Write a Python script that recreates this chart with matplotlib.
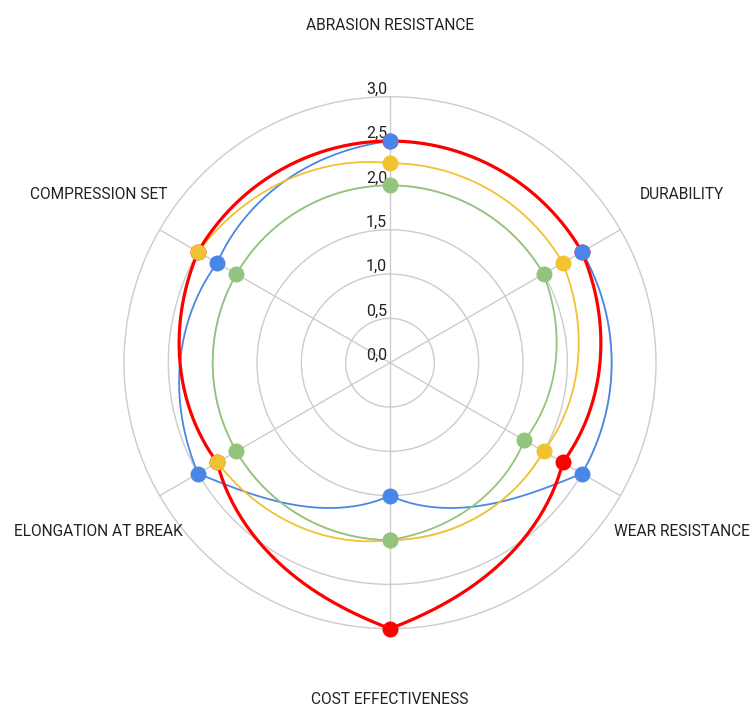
import numpy as np
import matplotlib
matplotlib.use("Agg")
import matplotlib.pyplot as plt

plt.rcParams['font.family'] = ['Roboto', 'DejaVu Sans']

# ---- data ----
categories = ["ABRASION RESISTANCE", "DURABILITY", "WEAR RESISTANCE",
              "COST EFFECTIVENESS", "ELONGATION AT BREAK", "COMPRESSION SET"]
series_blue = [2.5, 2.5, 2.5, 1.5, 2.5, 2.25]
series_red = [2.5, 2.5, 2.25, 3.0, 2.25, 2.5]
series_yellow = [2.25, 2.25, 2.0, 2.0, 2.25, 2.5]
series_green = [2.0, 2.0, 1.75, 2.0, 2.0, 2.0]
radial_ticks = [0.0, 0.5, 1.0, 1.5, 2.0, 2.5, 3.0]
radial_tick_labels = ["0,0", "0,5", "1,0", "1,5", "2,0", "2,5", "3,0"]

colors = {"blue": "#4A86E8", "red": "#FF0000", "yellow": "#F1C232", "green": "#93C47D"}
grid_color = "#cccccc"
text_color = "#222222"

W, H = 755, 708
cx, cy, R = 390.0, 362.7, 266.0

fig = plt.figure(figsize=(W / 100, H / 100), dpi=100)
ax = fig.add_axes([(cx - R) / W, (H - cy - R) / H, 2 * R / W, 2 * R / H],
                  projection='polar')
ax.set_theta_zero_location('N')
ax.set_theta_direction(-1)
ax.set_ylim(0, 3.0)

n = len(categories)
angles = np.arange(n) * 2 * np.pi / n

# grid
ax.set_xticks(angles)
ax.set_xticklabels([])
ax.set_yticks(radial_ticks[1:-1])
ax.set_yticklabels([])
ax.grid(True, color=grid_color, linewidth=1.0)
ax.spines['polar'].set_color(grid_color)
ax.spines['polar'].set_linewidth(1.0)
ax.tick_params(length=0)

# radial labels along the top spoke
for v, lab in zip(radial_ticks, radial_tick_labels):
    ax.annotate(lab, xy=(0, v), xytext=(-2, 2), textcoords='offset points',
                ha='right', va='baseline', fontsize=11.5, color=text_color,
                annotation_clip=False)

# category labels
for a, c in zip(angles, categories):
    ax.text(a, 3.80, c, ha='center', va='center', fontsize=11.2,
            color=text_color, clip_on=False)


def curve(values, steps=60):
    th = np.append(angles, 2 * np.pi)
    r = np.append(values, values[0])
    xs, ys, rs = [], [], []
    for i in range(n):
        t = np.linspace(0, 1, steps, endpoint=(i == n - 1))
        x0, y0 = r[i] * np.cos(th[i]), r[i] * np.sin(th[i])
        x1, y1 = r[i + 1] * np.cos(th[i + 1]), r[i + 1] * np.sin(th[i + 1])
        xs.append((1 - t) * x0 + t * x1)
        ys.append((1 - t) * y0 + t * y1)
        rs.append((1 - t) * r[i] + t * r[i + 1])
    xs, ys, rs = np.concatenate(xs), np.concatenate(ys), np.concatenate(rs)
    theta = np.unwrap(np.arctan2(ys, xs))
    return theta, rs


series = [("blue", series_blue, 1.3), ("yellow", series_yellow, 1.3),
          ("green", series_green, 1.3), ("red", series_red, 2.3)]
for z, (name, vals, lw) in enumerate(series):
    th, rr = curve(vals)
    ax.plot(th, rr, color=colors[name], linewidth=lw, zorder=3 + z * 0.1,
            solid_capstyle='round')

marker_order = [("red", series_red), ("blue", series_blue),
                ("yellow", series_yellow), ("green", series_green)]
for z, (name, vals) in enumerate(marker_order):
    ax.plot(angles, vals, linestyle='none', marker='o', markersize=11.5,
            markerfacecolor=colors[name], markeredgewidth=0,
            zorder=5 + z * 0.1, clip_on=False)

fig.savefig("out.png", dpi=100, facecolor='white')
